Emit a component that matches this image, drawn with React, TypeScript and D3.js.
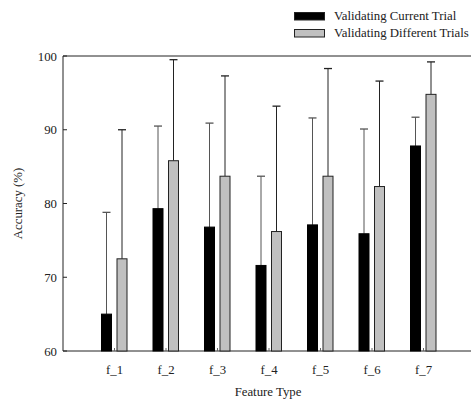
import React from "react";
import * as d3 from "d3";

const categories = ["f_1", "f_2", "f_3", "f_4", "f_5", "f_6", "f_7"];
const currentMean = [65.0, 79.3, 76.8, 71.6, 77.1, 75.9, 87.8];
const currentUpper = [78.8, 90.5, 90.9, 83.7, 91.6, 90.1, 91.7];
const differentMean = [72.5, 85.8, 83.7, 76.2, 83.7, 82.3, 94.8];
const differentUpper = [90.0, 99.5, 97.3, 93.2, 98.3, 96.6, 99.2];
const yTicks = [60, 70, 80, 90, 100];
const seriesNames = ["Validating Current Trial", "Validating Different Trials"];

export default function App() {
  const W = 471, H = 400;
  const left = 63, top = 56, bottom = 351;
  const x = d3.scaleLinear().domain([0, 8]).range([left, left + 8 * 51.5]);
  const y = d3.scaleLinear().domain([60, 100]).range([bottom, top]);
  const bw = 10;
  const font = "Times New Roman, Liberation Serif, serif";
  const fs = 12.8;
  const series = [
    { mean: currentMean, upper: currentUpper, off: -13, fill: "#000", stroke: "#000", err: "#555" },
    { mean: differentMean, upper: differentUpper, off: 2.5, fill: "#c0c0c0", stroke: "#222", err: "#222" },
  ];
  return (
    <svg width={W} height={H} style={{ position: "absolute", left: 0, top: 0 }}>
      <rect width={W} height={H} fill="#fff" />
      <line x1={left} x2={W} y1={y(100)} y2={y(100)} stroke="#222" strokeWidth={1} />
      <line x1={left} x2={W} y1={y(60)} y2={y(60)} stroke="#222" strokeWidth={1} />
      <line x1={left} x2={left} y1={y(100)} y2={y(60)} stroke="#222" strokeWidth={1} />
      {yTicks.map((t) => (
        <g key={t}>
          <line x1={left} x2={left + 4} y1={y(t)} y2={y(t)} stroke="#222" />
          <text x={left - 6} y={y(t) + 4.5} textAnchor="end" fontFamily={font} fontSize={fs} fill="#222">{t}</text>
        </g>
      ))}
      {categories.map((c, i) => (
        <g key={c}>
          <line x1={x(i + 1)} x2={x(i + 1)} y1={bottom} y2={bottom - 3} stroke="#666" />
          <text x={x(i + 1)} y={bottom + 23} textAnchor="middle" fontFamily={font} fontSize={fs} fill="#222">{c}</text>
        </g>
      ))}
      {series.map((s, si) =>
        categories.map((c, i) => {
          const x0 = x(i + 1) + s.off;
          const cx = x0 + bw / 2;
          return (
            <g key={si + c}>
              <line x1={cx} x2={cx} y1={y(s.mean[i])} y2={y(s.upper[i])} stroke={s.err} strokeWidth={1} />
              <line x1={cx - 4} x2={cx + 4} y1={y(s.upper[i])} y2={y(s.upper[i])} stroke={s.err} strokeWidth={1.3} />
              <rect x={x0} y={y(s.mean[i])} width={bw} height={bottom - y(s.mean[i])} fill={s.fill} stroke={s.stroke} strokeWidth={1} />
            </g>
          );
        })
      )}
      {seriesNames.map((n, i) => (
        <g key={n}>
          <rect x={294.5} y={12.5 + i * 17} width={30} height={7.5} fill={series[i].fill} stroke="#222" strokeWidth={1} />
          <text x={334} y={20 + i * 17} fontFamily={font} fontSize={fs} fill="#222">{n}</text>
        </g>
      ))}
      <text transform={`translate(22,${(top + bottom) / 2}) rotate(-90)`} textAnchor="middle" fontFamily={font} fontSize={fs} fill="#222">Accuracy (%)</text>
      <text x={268} y={396} textAnchor="middle" fontFamily={font} fontSize={fs} fill="#222">Feature Type</text>
    </svg>
  );
}
